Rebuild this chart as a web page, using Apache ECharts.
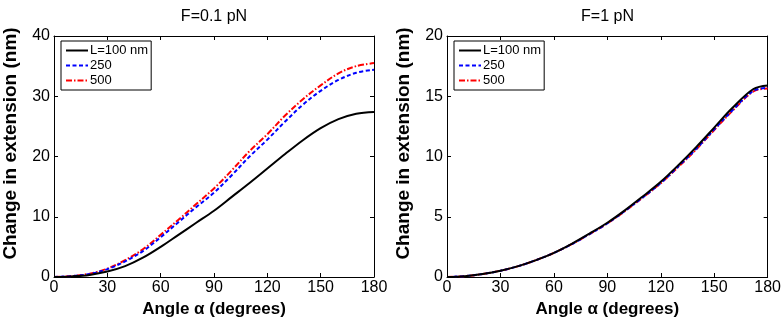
<!DOCTYPE html>
<html>
<head>
<meta charset="utf-8">
<script src="https://cdn.jsdelivr.net/npm/echarts@6/dist/echarts.min.js"></script>
<style>
html,body{margin:0;padding:0;background:#fff;}
#chart{width:784px;height:323px;}
</style>
</head>
<body>
<div id="chart"></div>
<script>
// Angles (degrees)
const angles = [0, 10, 20, 30, 40, 50, 60, 70, 80, 90, 100, 110, 120, 130, 140, 150, 160, 170, 180];
const anglesR = [0, 10, 20, 30, 40, 50, 60, 70, 80, 90, 100, 110, 120, 130, 140, 150, 160, 172, 180];

// F = 0.1 pN
const f01_L100 = [0, 0.1, 0.35, 0.9, 1.8, 3.2, 5.0, 7.0, 9.0, 11.0, 13.3, 15.6, 18.0, 20.4, 22.7, 24.7, 26.2, 27.1, 27.4];
const f01_L250 = [0, 0.15, 0.5, 1.3, 2.6, 4.3, 6.6, 9.1, 11.6, 14.0, 16.9, 20.0, 22.8, 25.8, 28.6, 30.9, 32.7, 33.9, 34.4];
const f01_L500 = [0, 0.15, 0.55, 1.4, 2.8, 4.6, 7.0, 9.5, 12.1, 14.7, 17.7, 20.9, 23.7, 26.8, 29.5, 31.8, 33.8, 35.0, 35.5];

// F = 1 pN
const f1_L100 = [0, 0.07, 0.25, 0.52, 0.9, 1.4, 2.0, 2.75, 3.6, 4.5, 5.55, 6.7, 7.9, 9.3, 10.8, 12.4, 14.0, 15.6, 15.9];
const f1_L250 = [0, 0.07, 0.25, 0.52, 0.9, 1.4, 2.0, 2.72, 3.56, 4.45, 5.5, 6.62, 7.8, 9.2, 10.65, 12.25, 13.8, 15.45, 15.7];
const f1_L500 = [0, 0.07, 0.25, 0.52, 0.9, 1.4, 2.0, 2.72, 3.56, 4.45, 5.48, 6.6, 7.78, 9.15, 10.6, 12.2, 13.75, 15.4, 15.65];

const titles = ['F=0.1 pN', 'F=1 pN'];
const legendNames = ['L=100 nm', '250', '500'];
const xTicks = {min: 0, max: 180, interval: 30};
const yRanges = [{min: 0, max: 40, interval: 10}, {min: 0, max: 20, interval: 5}];

const pairs = (xs, ys) => xs.map((x, i) => [x, ys[i]]);

const chart = echarts.init(document.getElementById('chart'));
const font = 'Liberation Sans, Arial, Helvetica, sans-serif';
const grids = [
  {left: 54, width: 320, top: 36, height: 241},
  {left: 447, width: 321, top: 36, height: 241}
];

const xAxes = [], yAxes = [];
for (let g = 0; g < 2; g++) {
  xAxes.push({
    type: 'value', gridIndex: g, min: xTicks.min, max: xTicks.max, interval: xTicks.interval,
    position: 'bottom',
    axisLine: {show: true, onZero: false, lineStyle: {color: '#000', width: 1}},
    axisTick: {show: true, inside: true, length: 4, lineStyle: {color: '#000'}},
    axisLabel: {color: '#000', fontSize: 16, fontFamily: font, margin: 3},
    splitLine: {show: false},
    name: 'Angle α (degrees)', nameLocation: 'middle', nameGap: 24,
    nameTextStyle: {color: '#000', fontSize: 17, fontWeight: 'bold', fontFamily: font}
  });
  xAxes.push({
    type: 'value', gridIndex: g, min: xTicks.min, max: xTicks.max, interval: xTicks.interval,
    position: 'top',
    axisLine: {show: true, onZero: false, lineStyle: {color: '#000', width: 1}},
    axisTick: {show: true, inside: true, length: 4, lineStyle: {color: '#000'}},
    axisLabel: {show: false}, splitLine: {show: false}
  });
  const yr = yRanges[g];
  yAxes.push({
    type: 'value', gridIndex: g, min: yr.min, max: yr.max, interval: yr.interval,
    position: 'left',
    axisLine: {show: true, onZero: false, lineStyle: {color: '#000', width: 1}},
    axisTick: {show: true, inside: true, length: 4, lineStyle: {color: '#000'}},
    axisLabel: {color: '#000', fontSize: 16, fontFamily: font, margin: 4},
    splitLine: {show: false},
    name: 'Change in extension (nm)', nameLocation: 'middle', nameGap: 34, nameRotate: 90,
    nameTextStyle: {color: '#000', fontSize: 19, fontWeight: 'bold', fontFamily: font, padding: [0, 0, 0, 26]}
  });
  yAxes.push({
    type: 'value', gridIndex: g, min: yr.min, max: yr.max, interval: yr.interval,
    position: 'right',
    axisLine: {show: true, onZero: false, lineStyle: {color: '#000', width: 1}},
    axisTick: {show: true, inside: true, length: 4, lineStyle: {color: '#000'}},
    axisLabel: {show: false}, splitLine: {show: false}
  });
}

const styles = [
  {color: '#000000', type: 'solid'},
  {color: '#0000ff', type: [4, 2.5]},
  {color: '#ff0000', type: [6, 2, 1.5, 2]}
];
const dataSets = [
  [pairs(angles, f01_L100), pairs(angles, f01_L250), pairs(angles, f01_L500)],
  [pairs(anglesR, f1_L100), pairs(anglesR, f1_L250), pairs(anglesR, f1_L500)]
];

const series = [];
for (let g = 0; g < 2; g++) {
  for (let s = 2; s >= 0; s--) {
    series.push({
      name: legendNames[s] + (g === 1 ? ' ' : ''),
      type: 'line', xAxisIndex: g * 2, yAxisIndex: g * 2,
      data: dataSets[g][s], symbol: 'none', smooth: 0.35, z: 3 + (2 - s),
      lineStyle: {color: styles[s].color, width: 2, type: styles[s].type},
      itemStyle: {color: styles[s].color, opacity: 0},
      animation: false
    });
  }
}

const legends = grids.map((gr, g) => ({
  orient: 'vertical',
  left: gr.left + 7, top: 41,
  data: legendNames.map(n => n + (g === 1 ? ' ' : '')),
  itemWidth: 22, itemHeight: 10, itemGap: 2,
  backgroundColor: '#fff', borderColor: '#000', borderWidth: 1,
  padding: [3, 3, 3, 4], borderRadius: 0,
  itemStyle: {opacity: 0},
  textStyle: {color: '#000', fontSize: 13, fontFamily: font, padding: [0, 0, 0, -3]},
  selectedMode: false,
  formatter: n => n.trim()
}));

chart.setOption({
  animation: false,
  backgroundColor: '#fff',
  title: titles.map((t, g) => ({
    text: t, left: grids[g].left + grids[g].width / 2, top: 9, padding: 0, textAlign: 'center',
    textStyle: {color: '#000', fontSize: 16, fontWeight: 'normal', fontFamily: font}
  })),
  grid: grids,
  xAxis: xAxes,
  yAxis: yAxes,
  legend: legends,
  series: series
});
</script>
</body>
</html>
